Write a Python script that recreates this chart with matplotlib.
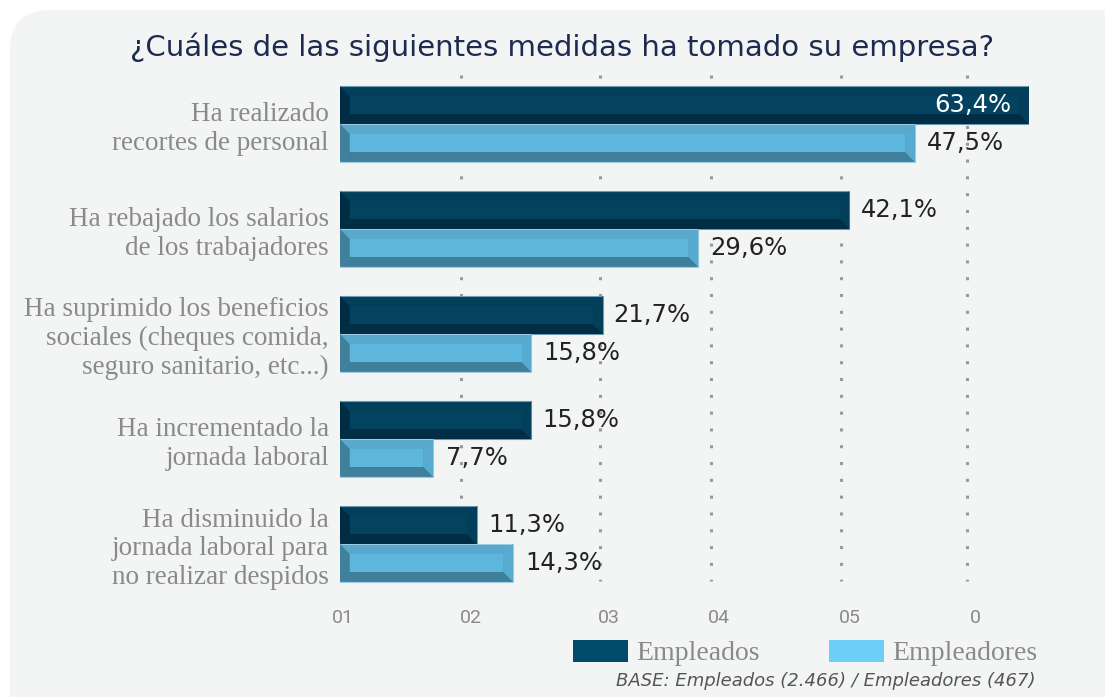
import matplotlib
matplotlib.use('Agg')
import matplotlib.pyplot as plt
from matplotlib import font_manager
from matplotlib.patches import FancyBboxPatch, Patch

# fuentes disponibles
installed = {f.name for f in font_manager.fontManager.ttflist}


def pick(*names):
    for n in names:
        if n in installed:
            return n
    return 'DejaVu Sans'


serif = pick('Liberation Serif', 'DejaVu Serif')
tickfont = pick('Roboto', 'DejaVu Sans')

# Datos
categorias = ['Ha realizado\nrecortes de personal',
              'Ha rebajado los salarios\nde los trabajadores',
              'Ha suprimido los beneficios\nsociales (cheques comida,\nseguro sanitario, etc...)',
              'Ha incrementado la\njornada laboral',
              'Ha disminuido la\njornada laboral para\nno realizar despidos']
empleados = [63.4, 42.1, 21.7, 15.8, 11.3]
empleadores = [47.5, 29.6, 15.8, 7.7, 14.3]
tick_pos = [0.25, 10.8, 22.2, 31.3, 42.1, 52.5]
tick_labels = ['01', '02', '03', '04', '05', '0']
grid_pos = [10.0, 21.5, 30.7, 41.4, 51.8]

XMAX = 56.94
H = 0.36
BX = 0.8
BY = 0.095

# colores: cara, arriba, abajo, izquierda, derecha, borde
dark = dict(face='#03435f', top='#023f5b', bot='#012d45', left='#012c44', right='#033f5b', edge='#6f9bb0')
light = dict(face='#5db6dc', top='#58a9cc', bot='#3f7f99', left='#40809b', right='#57abd0', edge='#9ccde2')

fig = plt.figure(figsize=(11.05, 6.97), dpi=100)
fig.patch.set_facecolor('white')
bg = FancyBboxPatch((10, -40), 1160, 727, boxstyle='round,pad=0,rounding_size=40',
                    transform=None, facecolor='#f3f5f5', edgecolor='none', zorder=-10)
fig.add_artist(bg)

ax = fig.add_axes([340 / 1105, (697 - 590) / 697, 689 / 1105, 515 / 697])
ax.set_facecolor('none')
ax.set_xlim(0, XMAX)
ax.set_ylim(4.438, -0.4667)


def bisel(y, v, c):
    # barra con aspecto biselado
    L = min(v, XMAX)
    top, bot = y - H / 2, y + H / 2
    ax.barh(y, L, height=H, color=c['top'], edgecolor=c['edge'], linewidth=0.8, zorder=3)
    ax.fill([0, L, L - BX, BX], [bot, bot, bot - BY, bot - BY], color=c['bot'], lw=0, zorder=4)
    ax.fill([0, BX, BX, 0], [top, top + BY, bot - BY, bot], color=c['left'], lw=0, zorder=5)
    ax.fill([L, L - BX, L - BX, L], [top, top + BY, bot - BY, bot], color=c['right'], lw=0, zorder=5)
    ax.barh(y, L - 2 * BX, left=BX, height=H - 2 * BY, color=c['face'], zorder=6)
    return L


for i in range(len(categorias)):
    yd = i - H / 2
    yl = i + H / 2
    Ld = bisel(yd, empleados[i], dark)
    Ll = bisel(yl, empleadores[i], light)
    td = f"{empleados[i]:.1f}".replace('.', ',') + '%'
    tl = f"{empleadores[i]:.1f}".replace('.', ',') + '%'
    if empleados[i] > XMAX:
        ax.annotate(td, (Ld, yd), xytext=(-13, 0), textcoords='offset points',
                    ha='right', va='center', color='white', fontsize=17.5, zorder=8)
    else:
        ax.annotate(td, (Ld, yd), xytext=(8, 0), textcoords='offset points',
                    ha='left', va='center', color='#222222', fontsize=17.5, zorder=8)
    ax.annotate(tl, (Ll, yl), xytext=(9, 0), textcoords='offset points',
                ha='left', va='center', color='#222222', fontsize=17.5, zorder=8)

for g in grid_pos:
    ax.plot([g, g], [-0.47, 4.35], color='#9a9a9a', linewidth=2.2,
            linestyle=(0, (1, 4.5)), zorder=1)

for s in ax.spines.values():
    s.set_visible(False)
ax.set_xticks(tick_pos)
ax.set_xticklabels(tick_labels, color='#8a8a8a', fontsize=14, family=tickfont)
ax.set_yticks(range(len(categorias)))
ax.set_yticklabels(categorias, color='#8a8a8a', fontsize=19.5, family=serif, linespacing=1.2)
ax.tick_params(axis='both', length=0)
ax.tick_params(axis='x', pad=14)
ax.tick_params(axis='y', pad=8)

fig.text(562 / 1105, 1 - 47 / 697, '¿Cuáles de las siguientes medidas ha tomado su empresa?',
         ha='center', va='center', fontsize=21, color='#1e2a4f')

handles = [Patch(facecolor='#004a6a'), Patch(facecolor='#6dcff6')]
fig.legend(handles, ['Empleados', 'Empleadores'], loc='center',
           bbox_to_anchor=(805 / 1105, 1 - 653 / 697), ncol=2, frameon=False,
           handlelength=1.98, handleheight=0.85, handletextpad=0.3, columnspacing=2.5,
           prop={'family': serif, 'size': 20}, labelcolor='#8a8a8a')

fig.text(1036 / 1105, 1 - 681 / 697, 'BASE: Empleados (2.466) / Empleadores (467)',
         ha='right', va='center', style='italic', color='#555555', fontsize=13)

fig.savefig('out.png', dpi=100, facecolor='white')
